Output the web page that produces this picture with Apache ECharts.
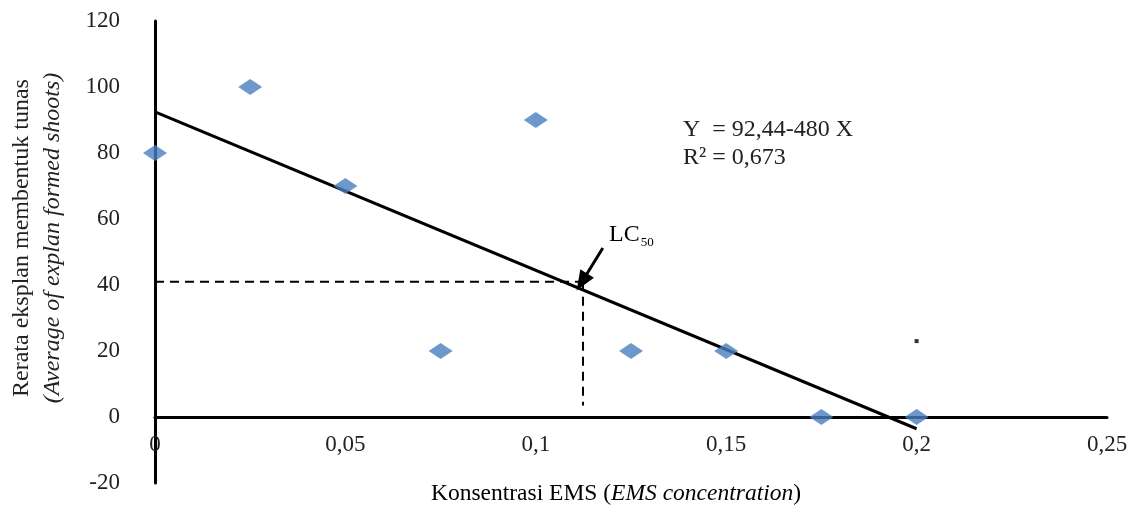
<!DOCTYPE html>
<html>
<head>
<meta charset="utf-8">
<script src="https://cdn.jsdelivr.net/npm/echarts@6/dist/echarts.min.js"></script>
<style>html,body{margin:0;padding:0;background:#fff}#c{width:1134px;height:505px}</style>
</head>
<body>
<div id="c"></div>
<script>
// data
var xValues = [0, 0.025, 0.05, 0.075, 0.1, 0.125, 0.15, 0.175, 0.2];
var yValues = [80, 100, 70, 20, 90, 20, 20, 0, 0];
var regX = [0, 0.2];
var regY = [92.44, -3.56];
var lc50X = 0.1124;
var lc50Y = 41;
var lc50Bottom = 3.5;
var arrowFrom = [0.1176, 51.2];
var arrowTo = [0.1121, 40.9];
var strayDot = [[0.2, 23]];
var eqLine1 = 'Y  = 92,44-480 X';
var eqLine2 = 'R\u00b2 = 0,673';

var FONT = '"Liberation Serif", "Times New Roman", serif';
var scatterData = xValues.map(function (x, i) { return [x, yValues[i]]; });
var regData = regX.map(function (x, i) { return [x, regY[i]]; });

var chart = echarts.init(document.getElementById('c'));
chart.setOption({
  animation: false,
  backgroundColor: '#fff',
  grid: { left: 155, right: 27, top: 21, bottom: 22, containLabel: false, outerBoundsMode: 'none' },
  xAxis: {
    type: 'value', min: 0, max: 0.25, interval: 0.05,
    position: 'bottom', offset: -66,
    axisLine: { onZero: false, lineStyle: { color: '#000', width: 3 } },
    axisTick: { show: false },
    splitLine: { show: false },
    axisLabel: {
      margin: 16, color: '#222', fontFamily: FONT, fontSize: 23,
      formatter: function (v) { return String(+v.toFixed(2)).replace('.', ','); }
    }
  },
  yAxis: {
    type: 'value', min: -20, max: 120, interval: 20,
    axisLine: { show: true, onZero: false, lineStyle: { color: '#000', width: 3 } },
    axisTick: { show: false },
    splitLine: { show: false },
    axisLabel: { margin: 35, color: '#222', fontFamily: FONT, fontSize: 23 }
  },
  series: [
    {
      type: 'line', data: regData, symbol: 'none',
      lineStyle: { color: '#000', width: 3 }, z: 3
    },
    {
      type: 'line', data: [[0, lc50Y], [lc50X, lc50Y]], symbol: 'none',
      lineStyle: { color: '#000', width: 2, type: [9, 6] }, z: 2
    },
    {
      type: 'line', data: [[lc50X, lc50Y], [lc50X, lc50Bottom]], symbol: 'none',
      lineStyle: { color: '#000', width: 2, type: [9, 6] }, z: 2,
      markLine: {
        silent: true, symbol: ['none', 'triangle'], symbolSize: [16, 20],
        label: { show: false },
        lineStyle: { color: '#000', width: 3, type: 'solid' },
        data: [[{ coord: arrowFrom }, { coord: arrowTo }]]
      }
    },
    {
      type: 'scatter', data: scatterData, symbol: 'diamond', symbolSize: [24, 16],
      itemStyle: { color: '#4A7EBF' }, z: 4
    },
    {
      type: 'scatter', data: strayDot, symbol: 'rect', symbolSize: 4,
      itemStyle: { color: '#000' }, z: 4
    }
  ],
  graphic: [
    {
      type: 'text', x: 22, y: 238, rotation: Math.PI / 2,
      style: { text: 'Rerata eksplan membentuk tunas', font: '24px ' + FONT, fill: '#222',
        textAlign: 'center', textVerticalAlign: 'middle' }
    },
    {
      type: 'text', x: 53, y: 238, rotation: Math.PI / 2,
      style: { text: '(Average of explan formed shoots)', font: 'italic 24px ' + FONT, fill: '#222',
        textAlign: 'center', textVerticalAlign: 'middle' }
    },
    {
      type: 'text', x: 616, y: 494,
      style: {
        text: '{n|Konsentrasi EMS (}{i|EMS concentration}{n|)}',
        textAlign: 'center', textVerticalAlign: 'middle',
        rich: {
          n: { fontFamily: FONT, fontSize: 23.5, color: '#222' },
          i: { fontFamily: FONT, fontSize: 23.5, fontStyle: 'italic', color: '#222' }
        }
      }
    },
    {
      type: 'text', x: 683, y: 130,
      style: { text: eqLine1, font: '24px ' + FONT, fill: '#222', textAlign: 'left', textVerticalAlign: 'middle' }
    },
    {
      type: 'text', x: 683, y: 158,
      style: { text: eqLine2, font: '24px ' + FONT, fill: '#222', textAlign: 'left', textVerticalAlign: 'middle' }
    },
    {
      type: 'text', x: 609, y: 235,
      style: {
        text: '{a|LC}{b|50}',
        textAlign: 'left', textVerticalAlign: 'middle',
        rich: {
          a: { fontFamily: FONT, fontSize: 24, color: '#222', lineHeight: 28 },
          b: { fontFamily: FONT, fontSize: 13, color: '#222', lineHeight: 28, verticalAlign: 'bottom', padding: [20, 0, 0, 1] }
        }
      }
    }
  ]
});
</script>
</body>
</html>
